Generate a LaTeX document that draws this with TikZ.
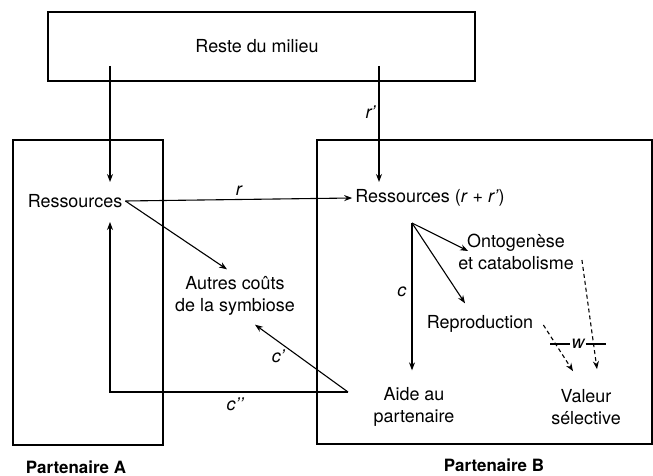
\documentclass[tikz,border=0pt]{standalone}
\usepackage{fontspec}
\setmainfont{TeX Gyre Heros}
\usepackage{tikz}
\usetikzlibrary{arrows.meta, positioning, calc}

\begin{document}
\begin{tikzpicture}[
    x=1bp, y=-1bp,
    frame/.style={rectangle, draw, line width=1.4bp, inner sep=0pt},
    lbl/.style={inner sep=3bp, font=\fontsize{18}{22}\selectfont, align=center},
    var/.style={inner sep=1bp, font=\fontsize{18}{22}\selectfont\itshape},
    title/.style={inner sep=1bp, font=\fontsize{17}{20}\selectfont\bfseries},
    arrow/.style={-{Stealth[length=8bp, width=6bp]}, line width=1.1bp},
    dasharrow/.style={arrow, dash pattern=on 4bp off 3bp}
]
\useasboundingbox (0,0) rectangle (653,476);

% cadres
\node[frame, minimum width=427bp, minimum height=69bp] (milieu) at (261.5,46.5) {};
\node[frame, minimum width=150bp, minimum height=305bp] (partA) at (88,292.5) {};
\node[frame, minimum width=335bp, minimum height=304bp] (partB) at (484.5,292) {};
\node[lbl] (reste) at (257,46) {Reste du milieu};

% textes
\node[lbl] (resA)   at (75,201)  {Ressources};
\node[lbl] (resB)   at (430,198) {Ressources (\textit{r} + \textit{r'})};
\node[lbl] (autres) at (235,296) {Autres coûts\\de la symbiose};
\node[lbl] (onto)   at (516,252) {Ontogenèse\\et catabolisme};
\node[lbl] (repro)  at (480,324) {Reproduction};
\node[lbl] (aide)   at (414,407) {Aide au\\partenaire};
\node[lbl] (valeur) at (586,407) {Valeur\\sélective};
\node[title] (nomA) at (76,467)  {Partenaire A};
\node[title] (nomB) at (494,465) {Partenaire B};

% points des fleches
\coordinate (srcA) at (110,66);
\coordinate (srcB) at (379,66);
\coordinate (inA)  at (110,182);
\coordinate (inB)  at (379,182);
\coordinate (retA) at (110,222);
\coordinate (bv)   at (412,223);
\coordinate (cv)   at (348,392);

\draw[arrow] (srcA) -- (inA);
\draw[arrow] (srcB) -- node[var, left=2bp, pos=0.4]{r'} (inB);
\draw[arrow] (resA.east) -- node[var, above=2bp, pos=0.5]{r} (resB.west);
\draw[arrow] (resA.east) -- ($(autres.north)+(-8,-4)$);
\draw[arrow] (cv) -- node[var, below=7bp, pos=0.75]{c'} ($(autres.south east)+(-43,6)$);
\draw[arrow] (cv) -| node[var, below=4bp, pos=0.237]{c'{}'} (retA);

\draw[arrow] (bv) -- ($(onto.west)+(13,-1)$);
\draw[arrow] (bv) -- ($(repro.north)+(-15,-9)$);
\draw[arrow] (bv) -- node[var, left=4bp, pos=0.47]{c} ($(aide.north)+(-2,-14)$);

% valeur selective
\draw[dasharrow] ($(onto.east)+(5,8)$) -- ($(valeur.north)+(11,-17)$);
\draw[dasharrow] ($(repro.east)+(7,1)$) -- ($(valeur.north)+(-13,-15)$);
\node[var] (w) at (578,344) {w};
\draw[line width=1.1bp] ($(w.west)+(-20,0)$) -- (w.west);
\draw[line width=1.1bp] (w.east) -- ++(20,0);
\end{tikzpicture}
\end{document}
